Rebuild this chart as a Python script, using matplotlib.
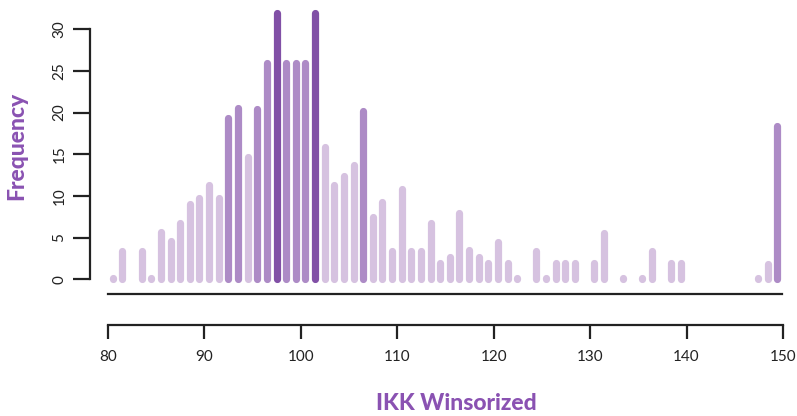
import numpy as np
import matplotlib.pyplot as plt

# Histogram of winsorized IKK values, 1-unit bins (bin centres)
bin_centers = [80.5, 81.5] + [83.5 + i for i in range(40)] + [
    124.5, 125.5, 126.5, 127.5, 128.5, 130.5, 131.5, 133.5, 135.5, 136.5,
    138.5, 139.5, 147.5, 148.5, 149.5]

frequency = [
    0.2, 3.4,
    3.4, 0.2, 5.7, 4.6, 6.7, 9.0, 9.7, 11.3, 9.7, 19.4,
    20.5, 14.7, 20.4, 26.0, 32.0, 26.0, 26.0, 26.0, 32.0, 15.9,
    11.3, 12.4, 13.7, 20.2, 7.5, 9.3, 3.4, 10.8, 3.4, 3.4,
    6.8, 1.9, 2.7, 8.0, 3.5, 2.7, 1.9, 4.5, 1.9, 0.2,
    3.4, 0.1, 1.9, 1.9, 1.9, 1.9, 5.6, 0.1, 0.1, 3.4,
    1.9, 1.9, 0.2, 1.8, 18.4]

x_ticks = [80, 90, 100, 110, 120, 130, 140, 150]
y_ticks = [0, 5, 10, 15, 20, 25, 30]

LIGHT = '#d6c2e0'
MID = '#ad8bc6'
DARK = '#8150a6'
TITLE = '#8a52b2'
INK = '#222222'

plt.rcParams['font.family'] = ['Lato', 'DejaVu Sans']

W, H = 797, 416
fig = plt.figure(figsize=(W / 100, H / 100), dpi=100)

# main panel: bars + baseline + y axis
x0, x1 = 108, 782
ax = fig.add_axes([x0 / W, (H - 294.3) / H, (x1 - x0) / W, 294.3 / H])
ax.set_xlim(80, 150)
ax.set_ylim(-1.8, 33.5)

freq = np.array(frequency)
colors = [DARK if f > 30 else MID if f > 17 else LIGHT for f in freq]
lines = ax.vlines(bin_centers, 0, freq, colors=colors, linewidth=5.2)
lines.set_capstyle('round')

for side in ['top', 'right']:
    ax.spines[side].set_visible(False)
ax.spines['bottom'].set_linewidth(1.6)
ax.spines['bottom'].set_color(INK)
ax.spines['left'].set_position(('outward', 13))
ax.spines['left'].set_bounds(0, 30)
ax.spines['left'].set_linewidth(1.6)
ax.spines['left'].set_color(INK)
ax.set_xticks([])
ax.set_yticks(y_ticks)
ax.tick_params(axis='y', direction='out', length=12, width=1.6, color=INK,
               pad=5, labelsize=11, labelcolor=INK)
for lab in ax.get_yticklabels():
    lab.set_rotation(90)
    lab.set_va('center')

# separate x axis below the bars
axx = fig.add_axes([x0 / W, (H - 325) / H, (x1 + 1 - x0) / W, 0.001])
axx.set_xlim(80, 150)
axx.set_yticks([])
for side in ['top', 'right', 'left']:
    axx.spines[side].set_visible(False)
axx.spines['bottom'].set_linewidth(1.6)
axx.spines['bottom'].set_color(INK)
axx.set_xticks(x_ticks)
axx.tick_params(axis='x', direction='out', length=10, width=1.6, color=INK,
                pad=8, labelsize=11, labelcolor=INK)

fig.text(456 / W, 1 - 404 / H, 'IKK Winsorized', ha='center', va='center',
         fontsize=16.5, fontweight='black', color=TITLE)
fig.text(17 / W, 1 - 146 / H, 'Frequency', ha='center', va='center',
         rotation=90, fontsize=16.5, fontweight='black', color=TITLE)

fig.savefig('out.png', dpi=100)
